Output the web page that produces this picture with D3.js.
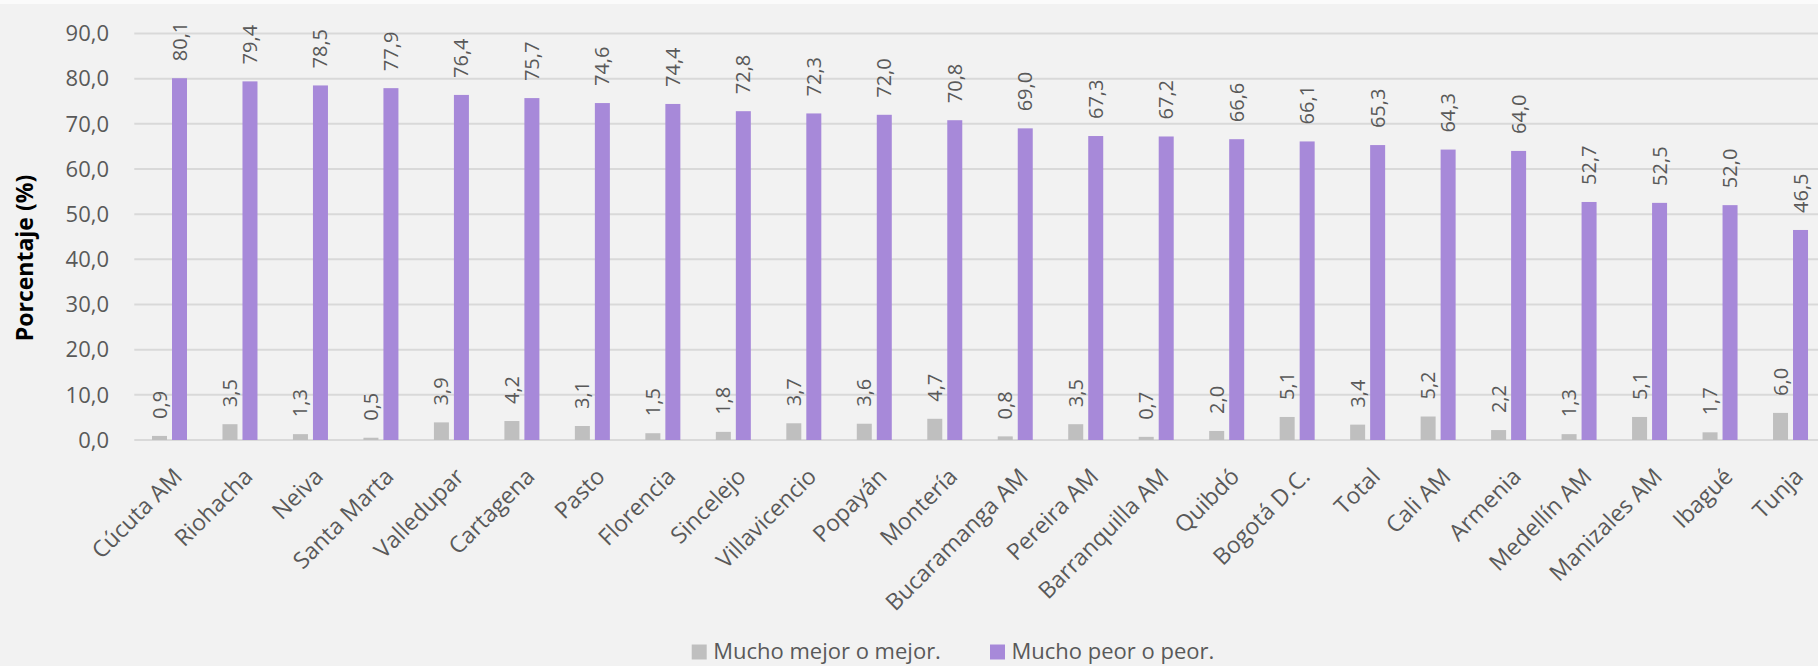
<!DOCTYPE html>
<html><head><meta charset="utf-8">
<script src="https://cdn.jsdelivr.net/npm/d3@7"></script>
<style>body{margin:0;background:#f2f2f2;} svg{display:block;}</style>
</head><body>
<script>
const categories = ["Cúcuta AM","Riohacha","Neiva","Santa Marta","Valledupar","Cartagena","Pasto","Florencia","Sincelejo","Villavicencio","Popayán","Montería","Bucaramanga AM","Pereira AM","Barranquilla AM","Quibdó","Bogotá D.C.","Total","Cali AM","Armenia","Medellín AM","Manizales AM","Ibagué","Tunja"];
const mejor = [0.9,3.5,1.3,0.5,3.9,4.2,3.1,1.5,1.8,3.7,3.6,4.7,0.8,3.5,0.7,2.0,5.1,3.4,5.2,2.2,1.3,5.1,1.7,6.0];
const peor = [80.1,79.4,78.5,77.9,76.4,75.7,74.6,74.4,72.8,72.3,72.0,70.8,69.0,67.3,67.2,66.6,66.1,65.3,64.3,64.0,52.7,52.5,52.0,46.5];
const seriesNames = ["Mucho mejor o mejor.","Mucho peor o peor."];
const yTicks = [0,10,20,30,40,50,60,70,80,90];

const W = 1818, H = 666;
const colors = ["#bfbfbf","#a789d9"];
const font = "'Open Sans', 'Noto Sans', sans-serif";
const txt = "#595959";

const svg = d3.select("body").append("svg").attr("width", W).attr("height", H);
svg.append("rect").attr("width", W).attr("height", H).attr("fill", "#f2f2f2");
svg.append("rect").attr("width", W).attr("height", 4).attr("fill", "#fbfbfb");

const y = d3.scaleLinear().domain([0, 90]).range([440, 33.5]);
const x = d3.scaleBand().domain(categories).range([134.3, 1825.8]).paddingInner(0).paddingOuter(0);
const x1 = d3.scaleBand().domain([0,1]).range([17.7, 52.7]).paddingInner(0.25).paddingOuter(0);
const fmt = v => d3.format(".1f")(v).replace(".", ",");

// gridlines
svg.append("g").selectAll("line").data(yTicks).join("line")
  .attr("x1", 134.3).attr("x2", W).attr("y1", d => y(d)).attr("y2", d => y(d))
  .attr("stroke", "#d9d9d9").attr("stroke-width", 2);

// y tick labels
svg.append("g").selectAll("text").data(yTicks).join("text")
  .attr("x", 109).attr("y", d => y(d)).attr("dy", "0.35em")
  .attr("text-anchor", "end").attr("font-family", font).attr("font-size", 22)
  .attr("fill", txt).text(d => fmt(d));

// y title
svg.append("text").attr("transform", "translate(25,258) rotate(-90)")
  .attr("text-anchor", "middle").attr("dy", "0.35em")
  .attr("font-family", font).attr("font-size", 23).attr("font-weight", "bold")
  .attr("fill", "#000").text("Porcentaje (%)");

const data = categories.map((c, i) => ({c, vals: [mejor[i], peor[i]]}));

const groups = svg.append("g").selectAll("g").data(data).join("g")
  .attr("transform", d => `translate(${x(d.c)},0)`);

groups.selectAll("rect").data(d => d.vals.map((v, k) => ({v, k}))).join("rect")
  .attr("x", d => x1(d.k)).attr("width", x1.bandwidth())
  .attr("y", d => y(d.v)).attr("height", d => y(0) - y(d.v))
  .attr("fill", d => colors[d.k]);

groups.selectAll("text.val").data(d => d.vals.map((v, k) => ({v, k}))).join("text")
  .attr("class", "val")
  .attr("transform", d => `translate(${x1(d.k) + x1.bandwidth()/2},${y(d.v) - 17}) rotate(-90)`)
  .attr("dy", "0.35em").attr("text-anchor", "start")
  .attr("font-family", font).attr("font-size", 20).attr("fill", txt)
  .text(d => fmt(d.v));

// x axis labels
svg.append("g").selectAll("text").data(categories).join("text")
  .attr("transform", d => `translate(${x(d) + x.bandwidth()/2 + 14},478) rotate(-45)`)
  .attr("text-anchor", "end").attr("font-family", font).attr("font-size", 23)
  .attr("fill", txt).text(d => d);

// legend
const legX = [691.7, 990];
const leg = svg.append("g").selectAll("g").data(seriesNames).join("g")
  .attr("transform", (d, i) => `translate(${legX[i]},0)`);
leg.append("rect").attr("x", 0).attr("y", 644.5).attr("width", 15).attr("height", 15)
  .attr("fill", (d, i) => colors[i]);
leg.append("text").attr("x", 21.5).attr("y", 659)
  .attr("font-family", font).attr("font-size", 22).attr("fill", txt).text(d => d);
</script>
</body></html>
